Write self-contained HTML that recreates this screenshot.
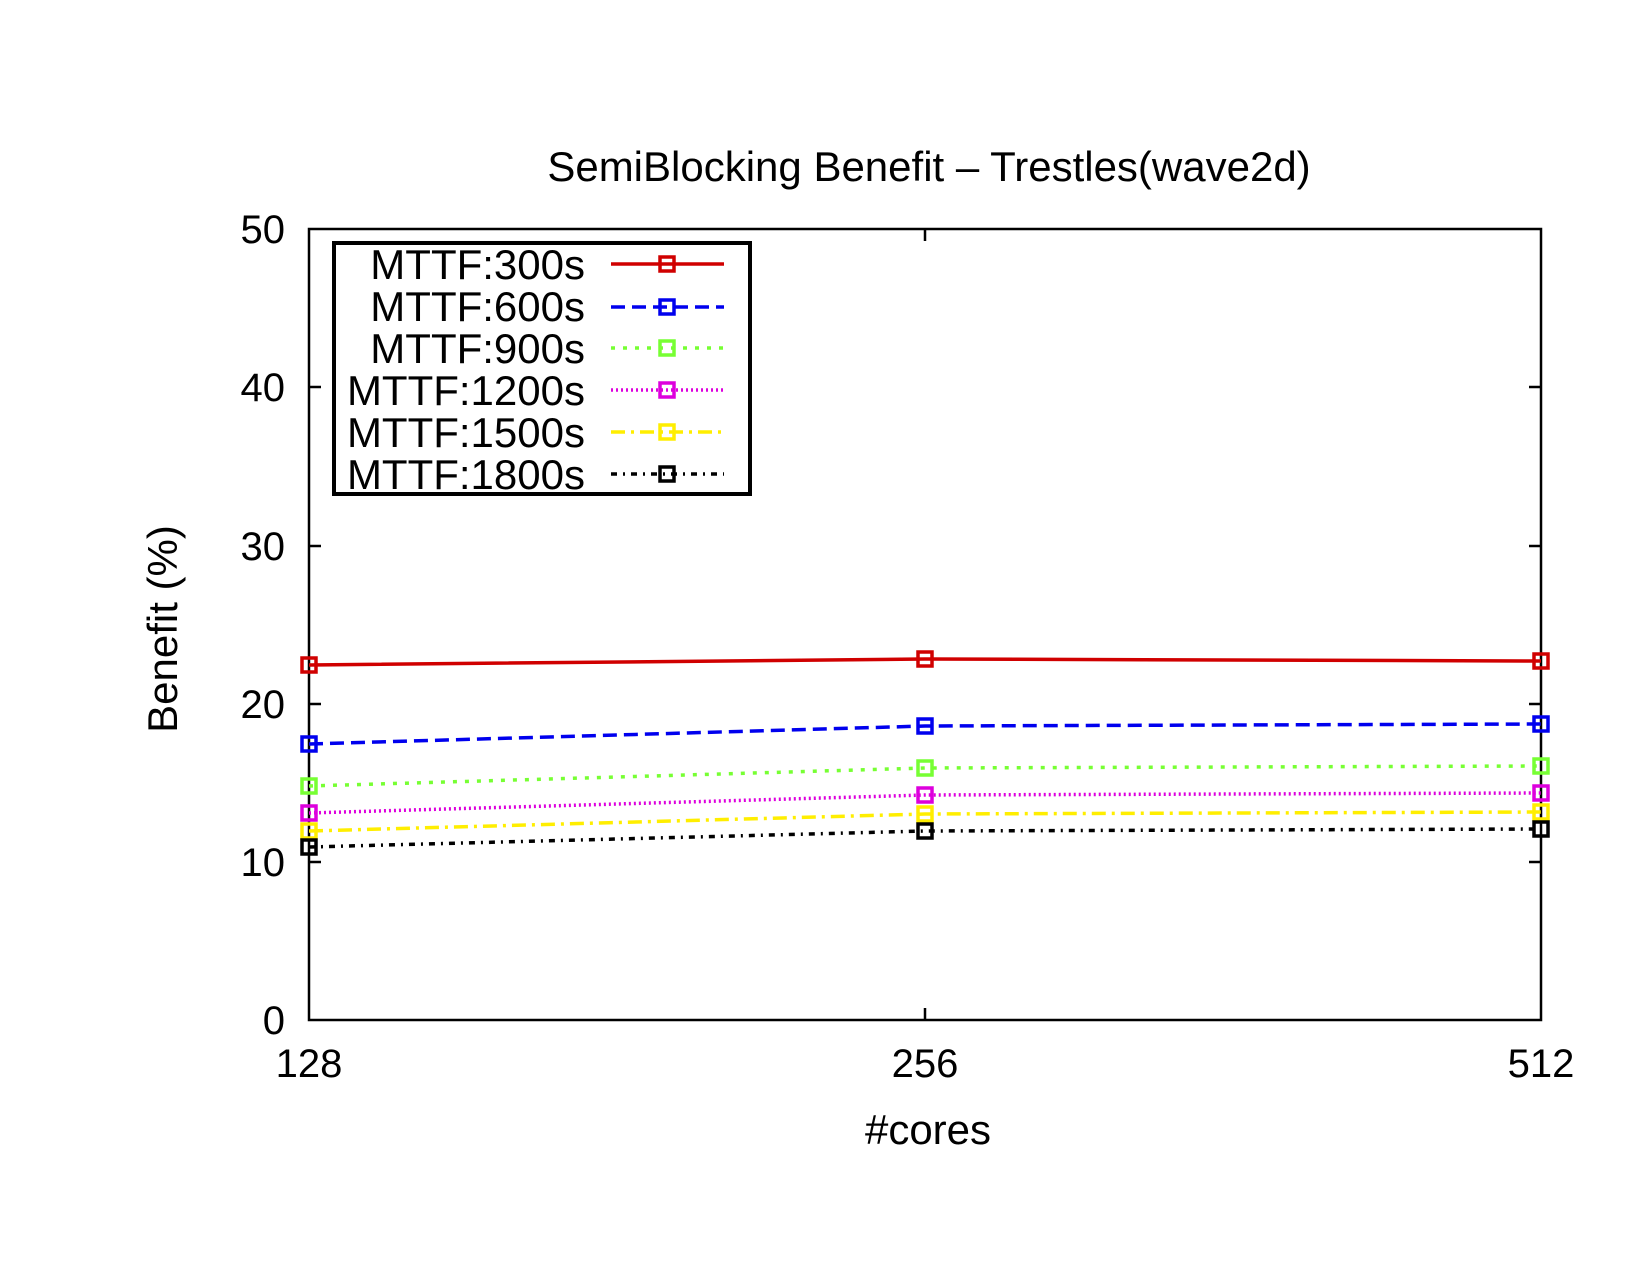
<!DOCTYPE html>
<html><head><style>body{margin:0;background:#fff}svg{display:block}</style></head><body>
<svg width="1650" height="1275" xmlns="http://www.w3.org/2000/svg" font-family="Liberation Sans, sans-serif">
<rect width="1650" height="1275" fill="#fff"/>
<text x="929" y="181" font-size="42" text-anchor="middle">SemiBlocking Benefit – Trestles(wave2d)</text>
<g stroke="#000" stroke-width="2.5" fill="none">
<rect x="309" y="229" width="1232" height="791"/>
<path d="M309 862h12M309 704h12M309 546h12M309 387h12M1541 862h-12M1541 704h-12M1541 546h-12M1541 387h-12M925 1020v-12M925 229v12"/>
</g>
<g font-size="40" text-anchor="end">
<text x="285" y="1034">0</text><text x="285" y="876">10</text><text x="285" y="718">20</text><text x="285" y="560">30</text><text x="285" y="401">40</text><text x="285" y="243">50</text>
</g>
<g font-size="40" text-anchor="middle">
<text x="309" y="1077">128</text><text x="925" y="1077">256</text><text x="1541" y="1077">512</text>
</g>
<g font-size="42" text-anchor="middle">
<text x="928" y="1144">#cores</text>
<text transform="translate(177,629) rotate(-90)">Benefit (%)</text>
</g>
<g fill="none" stroke-width="3.5">
<polyline stroke="#d00000" points="309,665 925,659 1541,661"/>
<polyline stroke="#0000ee" stroke-dasharray="14,7" points="309,744 925,726 1541,724"/>
<polyline stroke="#77ff33" stroke-dasharray="4,8" points="309,786 925,768 1541,766"/>
<polyline stroke="#dd00dd" stroke-dasharray="2,3" points="309,813 925,795 1541,793"/>
<polyline stroke="#ffee00" stroke-dasharray="14,6,3,6" points="309,831 925,814 1541,812"/>
<polyline stroke="#000" stroke-dasharray="6,6,2,6" points="309,847 925,831 1541,829"/>
</g>
<g fill="none" stroke-width="3.5">
<g stroke="#d00000"><rect x="302" y="658" width="14" height="14"/><rect x="918" y="652" width="14" height="14"/><rect x="1534" y="654" width="14" height="14"/></g>
<g stroke="#0000ee"><rect x="302" y="737" width="14" height="14"/><rect x="918" y="719" width="14" height="14"/><rect x="1534" y="717" width="14" height="14"/></g>
<g stroke="#77ff33"><rect x="302" y="779" width="14" height="14"/><rect x="918" y="761" width="14" height="14"/><rect x="1534" y="759" width="14" height="14"/></g>
<g stroke="#dd00dd"><rect x="302" y="806" width="14" height="14"/><rect x="918" y="788" width="14" height="14"/><rect x="1534" y="786" width="14" height="14"/></g>
<g stroke="#ffee00"><rect x="302" y="824" width="14" height="14"/><rect x="918" y="807" width="14" height="14"/><rect x="1534" y="805" width="14" height="14"/></g>
<g stroke="#000"><rect x="302" y="840" width="14" height="14"/><rect x="918" y="824" width="14" height="14"/><rect x="1534" y="822" width="14" height="14"/></g>
</g>
<rect x="334" y="243" width="416" height="251" fill="#fff" stroke="#000" stroke-width="4"/>
<g font-size="42" text-anchor="end">
<text x="585" y="279">MTTF:300s</text><text x="585" y="321">MTTF:600s</text><text x="585" y="363">MTTF:900s</text>
<text x="585" y="405">MTTF:1200s</text><text x="585" y="447">MTTF:1500s</text><text x="585" y="489">MTTF:1800s</text>
</g>
<g fill="none" stroke-width="3.5">
<path stroke="#d00000" d="M611 264h113"/><rect stroke="#d00000" x="660" y="257" width="14" height="14"/>
<path stroke="#0000ee" stroke-dasharray="14,7" d="M611 307h113"/><rect stroke="#0000ee" x="660" y="300" width="14" height="14"/>
<path stroke="#77ff33" stroke-dasharray="4,8" d="M611 348h113"/><rect stroke="#77ff33" x="660" y="341" width="14" height="14"/>
<path stroke="#dd00dd" stroke-dasharray="2,3" d="M611 390h113"/><rect stroke="#dd00dd" x="660" y="383" width="14" height="14"/>
<path stroke="#ffee00" stroke-dasharray="14,6,3,6" d="M611 432h113"/><rect stroke="#ffee00" x="660" y="425" width="14" height="14"/>
<path stroke="#000" stroke-dasharray="6,6,2,6" d="M611 474h113"/><rect stroke="#000" x="660" y="467" width="14" height="14"/>
</g>
</svg>
</body></html>
